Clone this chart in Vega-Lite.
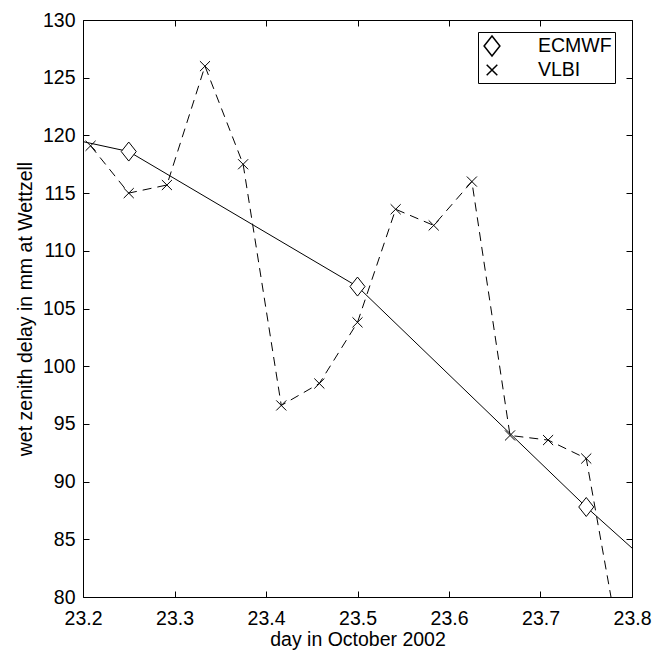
{
  "$schema": "https://vega.github.io/schema/vega-lite/v6.json",
  "width": 549,
  "height": 577,
  "autosize": {"type": "none"},
  "padding": {"left": 83, "top": 20, "right": 21, "bottom": 54},
  "background": "white",
  "config": {
    "view": {"stroke": null},
    "font": "Liberation Sans",
    "axis": {
      "domainColor": "black", "domainWidth": 1,
      "tickColor": "black", "tickWidth": 1, "tickSize": -6,
      "labelColor": "black", "titleColor": "black",
      "labelFont": "Liberation Sans", "titleFont": "Liberation Sans",
      "labelFontSize": 19.5, "titleFontSize": 19.5, "titleFontWeight": "normal",
      "grid": false, "labelFlush": false, "labelOverlap": false
    }
  },
  "data": {
    "values": [
      {"series": "ECMWF", "day": 23.0, "delay": 122.9},
      {"series": "ECMWF", "day": 23.25, "delay": 118.6},
      {"series": "ECMWF", "day": 23.5, "delay": 106.9},
      {"series": "ECMWF", "day": 23.75, "delay": 87.8},
      {"series": "ECMWF", "day": 24.0, "delay": 70.0},
      {"series": "VLBI", "day": 23.2083, "delay": 119.1},
      {"series": "VLBI", "day": 23.25, "delay": 115.0},
      {"series": "VLBI", "day": 23.2917, "delay": 115.7},
      {"series": "VLBI", "day": 23.3333, "delay": 126.0},
      {"series": "VLBI", "day": 23.375, "delay": 117.5},
      {"series": "VLBI", "day": 23.4167, "delay": 96.6},
      {"series": "VLBI", "day": 23.4583, "delay": 98.5},
      {"series": "VLBI", "day": 23.5, "delay": 103.8},
      {"series": "VLBI", "day": 23.5417, "delay": 113.6},
      {"series": "VLBI", "day": 23.5833, "delay": 112.2},
      {"series": "VLBI", "day": 23.625, "delay": 116.0},
      {"series": "VLBI", "day": 23.6667, "delay": 94.0},
      {"series": "VLBI", "day": 23.7083, "delay": 93.6},
      {"series": "VLBI", "day": 23.75, "delay": 92.0},
      {"series": "VLBI", "day": 23.7917, "delay": 73.5}
    ]
  },
  "layer": [
    {
      "transform": [{"filter": "datum.series === 'ECMWF'"}],
      "mark": {"type": "line", "color": "black", "strokeWidth": 1, "clip": true},
      "encoding": {
        "x": {"field": "day", "type": "quantitative",
              "scale": {"domain": [23.2, 23.8], "nice": false, "zero": false},
              "axis": {"orient": "bottom", "values": [23.2, 23.3, 23.4, 23.5, 23.6, 23.7, 23.8], "format": ".1f",
                       "labelPadding": 18, "title": "day in October 2002", "titlePadding": 3}},
        "y": {"field": "delay", "type": "quantitative",
              "scale": {"domain": [80, 130], "nice": false, "zero": false},
              "axis": {"orient": "left", "values": [80, 85, 90, 95, 100, 105, 110, 115, 120, 125, 130],
                       "labelPadding": 14, "title": "wet zenith delay in mm at Wettzell", "titlePadding": 7}}
      }
    },
    {
      "transform": [{"filter": "datum.series === 'VLBI'"}],
      "mark": {"type": "line", "color": "black", "strokeWidth": 1, "strokeDash": [9, 6], "clip": true},
      "encoding": {
        "x": {"field": "day", "type": "quantitative",
              "scale": {"domain": [23.2, 23.8], "nice": false, "zero": false},
              "axis": {"orient": "top", "values": [23.2, 23.3, 23.4, 23.5, 23.6, 23.7, 23.8], "labels": false, "title": null}},
        "y": {"field": "delay", "type": "quantitative",
              "scale": {"domain": [80, 130], "nice": false, "zero": false},
              "axis": {"orient": "right", "values": [80, 85, 90, 95, 100, 105, 110, 115, 120, 125, 130], "labels": false, "title": null}}
      }
    },
    {
      "mark": {"type": "point", "filled": true, "fill": "white", "stroke": "black", "strokeWidth": 1, "opacity": 1, "size": 361, "clip": true},
      "encoding": {
        "x": {"field": "day", "type": "quantitative",
              "scale": {"domain": [23.2, 23.8], "nice": false, "zero": false}, "axis": null},
        "y": {"field": "delay", "type": "quantitative",
              "scale": {"domain": [80, 130], "nice": false, "zero": false}, "axis": null},
        "shape": {"field": "series", "type": "nominal",
                  "scale": {"domain": ["ECMWF", "VLBI"], "range": ["M-0.79,0L0,-1L0.79,0L0,1Z", "M-0.53,-0.53L0.53,0.53M-0.53,0.53L0.53,-0.53"]},
                  "legend": {
                    "title": null, "orient": "none", "legendX": 395, "legendY": 12,
                    "strokeColor": "black", "fillColor": "white", "padding": 3,
                    "labelFont": "Liberation Sans", "labelFontSize": 19.5, "labelColor": "black",
                    "symbolSize": 400, "labelOffset": 35, "rowPadding": 0,
                    "labelExpr": "datum.label + ' '",
                    "encode": {
                      "symbols": {
                        "size": {"value": 400},
                        "fill": {"value": "white"},
                        "stroke": {"value": "black"},
                        "strokeWidth": {"value": 1},
                        "opacity": {"value": 1}
                      }
                    }
                  }}
      }
    }
  ],
  "resolve": {"axis": {"x": "independent", "y": "independent"}}
}
